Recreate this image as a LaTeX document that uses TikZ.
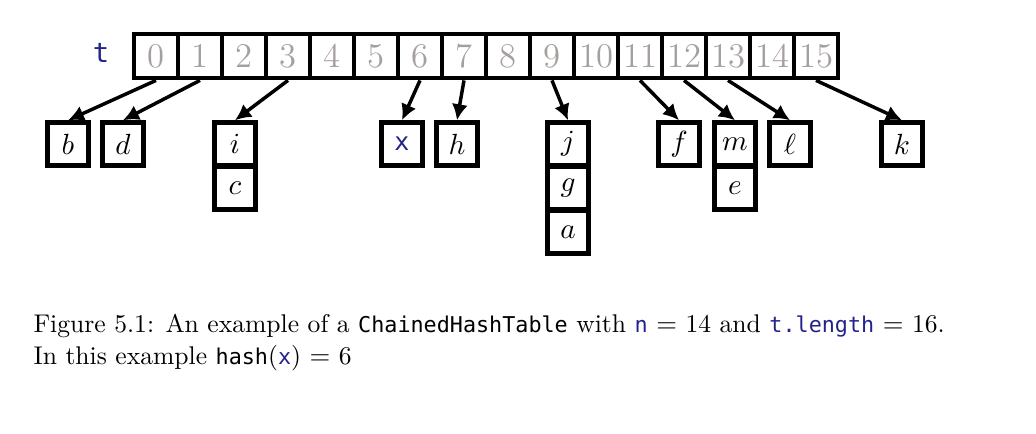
\documentclass[tikz,border=0pt]{standalone}
\usepackage{fontspec}
\setmonofont{DejaVu Sans Mono}[Scale=0.85]
\usetikzlibrary{positioning,arrows.meta}
\definecolor{idxgray}{RGB}{165,160,158}
\definecolor{varblue}{RGB}{35,35,140}
\begin{document}
\begin{tikzpicture}
  [x=0.375pt,y=-0.375pt,
   cell/.style={draw,line width=1.8pt,minimum width=16.5pt,minimum height=16.5pt,
     inner sep=0pt,text=idxgray,font=\fontsize{13}{15}\selectfont},
   item/.style={draw,line width=1.8pt,minimum width=15.6pt,minimum height=16pt,
     inner sep=0pt,font=\fontsize{10.8}{12}\selectfont},
   ptr/.style={line width=1.3pt,-{Latex[length=6pt,width=6pt]}}]
  \useasboundingbox (0,0) rectangle (1036,434);

  % the table t
  \node (t) [text=varblue,font=\fontsize{12}{14}\ttfamily] at (101,53) {t};
  \foreach \i in {0,...,15}
    \node[cell] (c\i) at (156+44*\i,56) {\i};

  % the lists
  \node[item] (b) at (68,144)  {$b$};
  \node[item] (d) at (123,144) {$d$};
  \node[item] (i) at (235,144) {$i$};
  \node[item] (c) [below=-1.3pt of i] {$c$};
  \node[item] (x) at (402,144) {\textcolor{varblue}{\fontsize{11}{13}\ttfamily x}};
  \node[item] (h) at (457,144) {$h$};
  \node[item] (j) at (568,144) {$j$};
  \node[item] (g) [below=-1.3pt of j] {$g$};
  \node[item] (a) [below=-1.3pt of g] {$a$};
  \node[item] (f) at (679,144) {$f$};
  \node[item] (m) at (735,144) {$m$};
  \node[item] (e) [below=-1.3pt of m] {$e$};
  \node[item] (l) at (790,144) {$\ell$};
  \node[item] (k) at (902,144) {$k$};

\foreach \from/\to in
{c0/b, c1/d, c3/i, c6/x, c7/h, c9/j, c11/f, c12/m, c13/l, c15/k}
    \draw[ptr] (\from.south) -- (\to.north);

  % caption
  \node (cap) [anchor=north west,align=left,inner sep=0pt,font=\fontsize{9.6}{12}\selectfont] at (33,314)
    {Figure 5.1: An example of a \texttt{ChainedHashTable} with \textcolor{varblue}{\texttt{n}} $=$ 14 and \textcolor{varblue}{\texttt{t.length}} $=$ 16.\\
     In this example \texttt{hash}(\textcolor{varblue}{\texttt{x}}) $=$ 6};
\end{tikzpicture}
\end{document}
